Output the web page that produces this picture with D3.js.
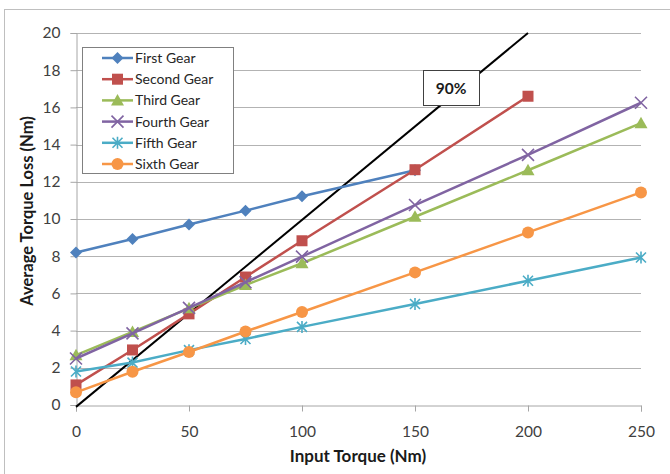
<!DOCTYPE html>
<html><head><meta charset="utf-8">
<script src="https://cdn.jsdelivr.net/npm/d3@7"></script>
<style>body{margin:0;background:#fff;}svg{display:block;font-family:Lato,"Open Sans",sans-serif;}</style>
</head><body>
<svg id="c" width="670" height="474"></svg>
<script>
const xValues = [0, 25, 50, 75, 100, 150, 200, 250];
const seriesNames = ["First Gear","Second Gear","Third Gear","Fourth Gear","Fifth Gear","Sixth Gear"];
const firstGear  = [8.2, 8.92, 9.7, 10.45, 11.22, 12.62];
const secondGear = [1.08, 2.96, 4.9, 6.88, 8.83, 12.65, 16.6];
const thirdGear  = [2.68, 3.93, 5.2, 6.45, 7.62, 10.12, 12.62, 15.15];
const fourthGear = [2.5, 3.85, 5.22, 6.6, 7.98, 10.75, 13.45, 16.25];
const fifthGear  = [1.8, 2.28, 2.95, 3.55, 4.2, 5.43, 6.68, 7.93];
const sixthGear  = [0.68, 1.79, 2.85, 3.95, 5.0, 7.13, 9.28, 11.43];
const colors = ["#4F81BD","#C0504D","#9BBB59","#8064A2","#4BACC6","#F79646"];
const markers = ["diamond","square","triangle","x","asterisk","circle"];
const refLineX = [0, 200];
const refLineY = [-0.1, 20];
const refLabel = "90%";
const yTicks = [0,2,4,6,8,10,12,14,16,18,20];
const xTicks = [0,50,100,150,200,250];

const svg = d3.select("#c");
const x = d3.scaleLinear().domain([0,250]).range([76,641]);
const y = d3.scaleLinear().domain([0,20]).range([405,33]);

svg.append("rect").attr("x",4.5).attr("y",9.5).attr("width",700).attr("height",500)
  .attr("fill","none").attr("stroke","#bfbfbf");

// gridlines
svg.append("g").selectAll("line").data(yTicks.filter(d=>d>0)).join("line")
  .attr("x1",x(0)).attr("x2",x(250)).attr("y1",d=>Math.round(y(d))+0.5).attr("y2",d=>Math.round(y(d))+0.5)
  .attr("stroke","#b3b3b3").attr("stroke-width",1);

// axes
const yAxis = svg.append("g").attr("transform",`translate(${x(0)+0.5},0)`)
  .call(d3.axisLeft(y).tickValues(yTicks).tickSize(6).tickPadding(10).tickFormat(d3.format("d")));
const xAxis = svg.append("g").attr("transform",`translate(0,${y(0)+0.5})`)
  .call(d3.axisBottom(x).tickValues(xTicks).tickSize(6).tickPadding(14).tickFormat(d3.format("d")));
[yAxis,xAxis].forEach(a=>{
  a.select(".domain").attr("stroke","#a6a6a6");
  a.selectAll(".tick line").attr("stroke","#a6a6a6");
  a.selectAll("text").attr("fill","#404040").style("font-size","15.5px").style("font-family","Lato, sans-serif");
});

svg.append("text").attr("x",358).attr("y",462).attr("text-anchor","middle")
  .style("font-size","17px").style("font-weight","bold").attr("fill","#1a1a1a").text("Input Torque (Nm)");
svg.append("text").attr("transform","translate(33,211) rotate(-90)").attr("text-anchor","middle")
  .style("font-size","16.5px").style("font-weight","bold").attr("fill","#1a1a1a").text("Average Torque Loss (Nm)");

// reference line
svg.append("line").attr("x1",x(refLineX[0])).attr("y1",y(refLineY[0])).attr("x2",x(refLineX[1])).attr("y2",y(refLineY[1]))
  .attr("stroke","#000").attr("stroke-width",2);

const allSeries = [firstGear,secondGear,thirdGear,fourthGear,fifthGear,sixthGear];
const line = d3.line().x(d=>x(d[0])).y(d=>y(d[1]));

function drawMarker(g, type, color, cx, cy){
  if(type==="diamond"){
    g.append("path").attr("d",`M${cx},${cy-6}L${cx+6},${cy}L${cx},${cy+6}L${cx-6},${cy}Z`).attr("fill",color);
  } else if(type==="square"){
    g.append("rect").attr("x",cx-5.5).attr("y",cy-5.5).attr("width",11).attr("height",11).attr("fill",color);
  } else if(type==="triangle"){
    g.append("path").attr("d",`M${cx},${cy-6.5}L${cx+6.5},${cy+5}L${cx-6.5},${cy+5}Z`).attr("fill",color);
  } else if(type==="x"){
    g.append("path").attr("d",`M${cx-6},${cy-6}L${cx+6},${cy+6}M${cx-6},${cy+6}L${cx+6},${cy-6}`).attr("stroke",color).attr("stroke-width",1.6);
  } else if(type==="asterisk"){
    g.append("path").attr("d",`M${cx-5},${cy-5}L${cx+5},${cy+5}M${cx-5},${cy+5}L${cx+5},${cy-5}M${cx},${cy-6}L${cx},${cy+6}`).attr("stroke",color).attr("stroke-width",1.6);
  } else {
    g.append("circle").attr("cx",cx).attr("cy",cy).attr("r",6).attr("fill",color);
  }
}

allSeries.forEach((vals,i)=>{
  const pts = vals.map((v,j)=>[xValues[j],v]);
  const g = svg.append("g");
  g.append("path").datum(pts).attr("d",line).attr("fill","none").attr("stroke",colors[i]).attr("stroke-width",2.5);
  pts.forEach(p=>drawMarker(g,markers[i],colors[i],x(p[0]),y(p[1])));
});

// 90% label
const lb = svg.append("g");
lb.append("rect").attr("x",423.5).attr("y",70.5).attr("width",56).attr("height",35).attr("fill","#fff").attr("stroke","#404040");
lb.append("text").attr("x",451).attr("y",93.5).attr("text-anchor","middle").style("font-size","15.5px").style("font-weight","bold").attr("fill","#1a1a1a").text(refLabel);

// legend
const lg = svg.append("g");
lg.append("rect").attr("x",82.5).attr("y",47.5).attr("width",151).attr("height",126).attr("fill","#fff").attr("stroke","#808080");
seriesNames.forEach((n,i)=>{
  const yy = 58 + i*21.2;
  lg.append("line").attr("x1",102).attr("x2",133).attr("y1",yy).attr("y2",yy).attr("stroke",colors[i]).attr("stroke-width",2.5);
  drawMarker(lg,markers[i],colors[i],117.5,yy);
  lg.append("text").attr("x",135).attr("y",yy+5).style("font-size","14px").attr("fill","#262626").text(n);
});
</script>
</body></html>
